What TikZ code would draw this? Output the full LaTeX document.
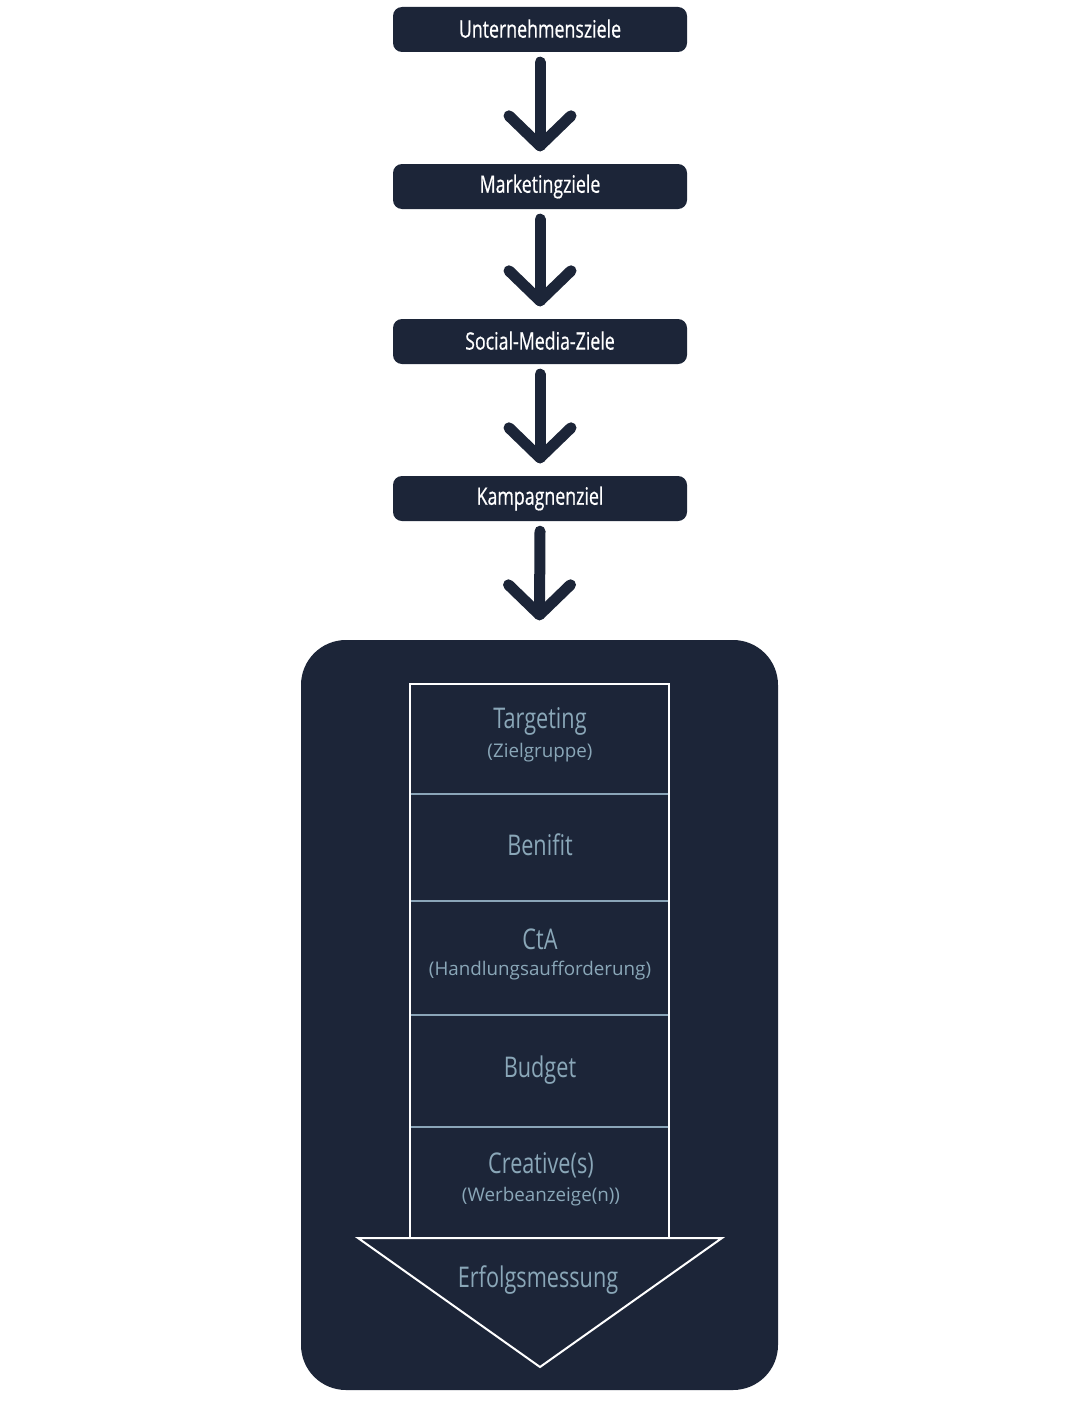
\documentclass[tikz,border=0pt]{standalone}
\usepackage{fontspec}
\setmainfont{Open Sans}
\newfontfamily\condfont[FakeStretch=0.76]{Open Sans}
\newfontfamily\condsemi[FakeStretch=0.74, FakeBold=0.6]{Open Sans}
\usetikzlibrary{calc}
\definecolor{navy}{HTML}{1C2538}
\definecolor{paletxt}{HTML}{8AA7B8}
\definecolor{divider}{HTML}{8AA5B8}
\tikzset{
  goalbox/.style={fill=navy, rounded corners=9pt, minimum width=294pt, minimum height=45pt, inner sep=0pt, text=white, font=\condsemi\fontsize{24}{28}\selectfont},
  arrowline/.style={draw=navy, line width=11pt, line cap=round, line join=round},
  maintxt/.style={text=paletxt, font=\condfont\fontsize{28.5}{32}\selectfont, inner sep=0pt},
  subtxt/.style={text=paletxt, font=\fontsize{18.8}{22}\selectfont, inner sep=0pt},
  cellline/.style={draw=white, line width=2pt},
  divline/.style={draw=divider, line width=2pt},
}
\begin{document}
\begin{tikzpicture}[x=1pt,y=-1pt]
\useasboundingbox (0,0) rectangle (1080,1421);
\fill[white] (0,0) rectangle (1080,1421);
% goal boxes
\node[goalbox] (b1) at (540,29.5) {\raisebox{2pt}{Unternehmensziele}};
\node[goalbox] (b2) at (540,186.5) {\raisebox{2pt}{Marketingziele}};
\node[goalbox] (b3) at (540,341.5) {\raisebox{2pt}{Social-Media-Ziele}};
\node[goalbox] (b4) at (540,498.5) {\raisebox{2pt}{Kampagnenziel}};
% container
\node[fill=navy, rounded corners=45pt, minimum width=477pt, minimum height=750pt, inner sep=0pt] (box) at (539.5,1015) {};
% arrows
\coordinate (t1) at ($(b2.north)+(0,-18)$);
\coordinate (t2) at ($(b3.north)+(0,-18)$);
\coordinate (t3) at ($(b4.north)+(0,-18)$);
\coordinate (t4) at ($(box.north)+(0,-25)$);
\draw[arrowline] ($(b1.south)+(0,10)$) -- (t1);
\draw[arrowline] ($(t1)+(-31,-30)$) -- (t1) -- ($(t1)+(31,-30)$);
\draw[arrowline] ($(b2.south)+(0,10)$) -- (t2);
\draw[arrowline] ($(t2)+(-31,-30)$) -- (t2) -- ($(t2)+(31,-30)$);
\draw[arrowline] ($(b3.south)+(0,10)$) -- (t3);
\draw[arrowline] ($(t3)+(-31,-30)$) -- (t3) -- ($(t3)+(31,-30)$);
\draw[arrowline] ($(b4.south)+(0,10)$) -- (t4);
\draw[arrowline] ($(t4)+(-31,-30)$) -- (t4) -- ($(t4)+(31,-30)$);
% table
\draw[divline] (411,794) -- (669,794);
\draw[divline] (411,901) -- (669,901);
\draw[divline] (411,1015) -- (669,1015);
\draw[divline] (411,1127) -- (669,1127);
\draw[cellline] (410,1238) -- (410,684) -- (669,684) -- (669,1238);
\draw[cellline, line join=miter] (358,1238) -- (722,1238) -- (540,1367) -- cycle;
% texts
\node[maintxt] (c1) at (540,721) {Targeting};
\node[subtxt] (s1) at (540,753) {(Zielgruppe)};
\node[maintxt] (c2) at (540,845) {Benifit};
\node[maintxt] (c3) at (540,939) {CtA};
\node[subtxt] (s3) at (540,971) {(Handlungsaufforderung)};
\node[maintxt] (c4) at (540,1070) {Budget};
\node[maintxt] (c5) at (541,1165) {Creative(s)};
\node[subtxt] (s5) at (541,1197) {(Werbeanzeige(n))};
\node[maintxt] (c6) at (538,1280) {Erfolgsmessung};
\end{tikzpicture}
\end{document}
